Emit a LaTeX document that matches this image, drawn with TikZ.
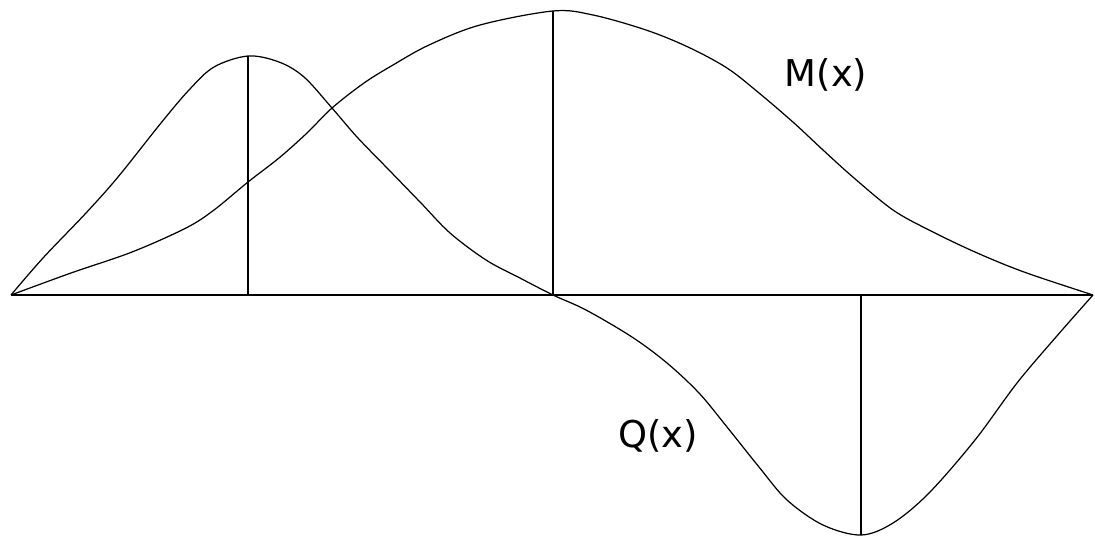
\documentclass[tikz,border=0pt]{standalone}
\usepackage{fontspec}
\setmainfont{DejaVu Sans}
\begin{document}
\begin{tikzpicture}[x=0.02cm,y=-0.02cm,
  line/.style={draw=black,line width=0.7pt,line join=round},
  curve/.style={line,smooth,tension=0.55},
  lbl/.style={font=\fontsize{21}{24}\selectfont,inner sep=0pt}]
\useasboundingbox (0,0) rectangle (1095,538);
\fill[white] (0,0) rectangle (1095,538);
\coordinate (A) at (11,295);
\coordinate (B) at (1093,295);
\coordinate (P1) at (248,56);
\coordinate (F1) at (248,295);
\coordinate (P2) at (553,11);
\coordinate (F2) at (553,295);
\coordinate (P3) at (861,535);
\coordinate (F3) at (861,295);
% baseline
\draw[line] (A) -- (B);
% verticals
\draw[line] (P1) -- (F1);
\draw[line] (P2) -- (F2);
\draw[line] (F3) -- (P3);
% Q(x)
\draw[line] plot[smooth,tension=0.55] coordinates {(11,295) (43,258) (86,213) (118,177) (161,123) (189,90) (214,67) (248,56) (279,62) (304,77) (332,108) (357,137) (389,170) (421,203) (450,233) (486,260) (518,277) (553,295) (586,310) (632,337) (667,363) (699,393) (727,427) (759,467) (787,500) (823,525) (861,535) (893,523) (929,493) (975,440) (1017,383) (1056,337) (1093,295)};
% M(x)
\draw[line] plot[smooth,tension=0.55] coordinates {(11,295) (71,273) (132,252) (186,228) (214,210) (248,182) (279,158) (307,133) (332,108) (364,83) (393,65) (429,45) (480,25) (553,11) (593,15) (646,30) (688,47) (727,68) (759,93) (794,123) (823,150) (854,178) (893,210) (929,230) (975,252) (1024,272) (1093,295)};
\node[lbl] (M) at (826,75) {M(x)};
\node[lbl] (Q) at (658,436) {Q(x)};
\end{tikzpicture}
\end{document}
